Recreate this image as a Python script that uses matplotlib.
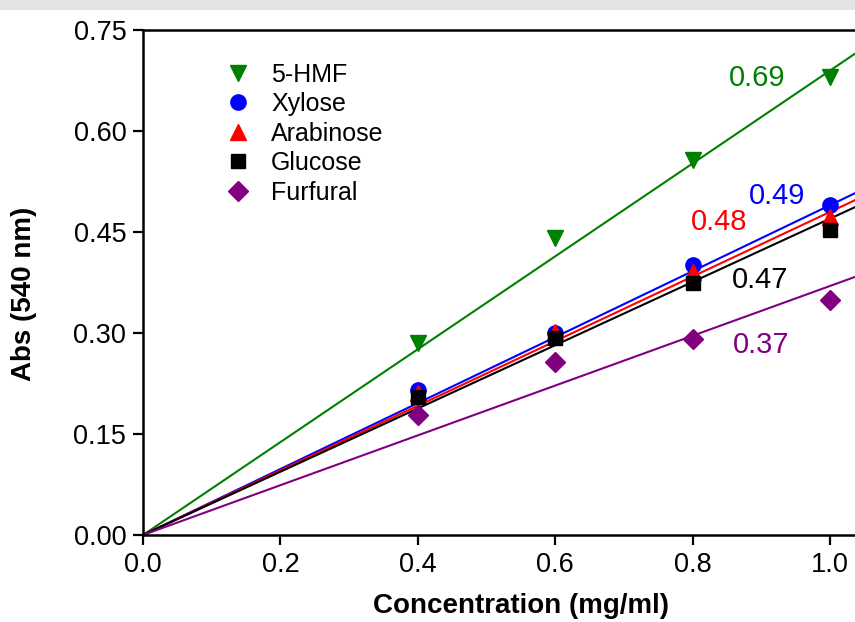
import numpy as np
import matplotlib
matplotlib.use("Agg")
import matplotlib.pyplot as plt
from matplotlib.patches import Rectangle

plt.rcParams['font.family'] = ['Liberation Sans', 'DejaVu Sans']

# standard concentrations (mg/ml)
conc = [0.4, 0.6, 0.8, 1.0]

# measured absorbance at 540 nm
names = ['5-HMF', 'Xylose', 'Arabinose', 'Glucose', 'Furfural']
abs_hmf = [0.285, 0.441, 0.557, 0.680]
abs_xyl = [0.215, 0.300, 0.401, 0.490]
abs_ara = [0.211, 0.302, 0.391, 0.472]
abs_glu = [0.205, 0.293, 0.374, 0.453]
abs_fur = [0.178, 0.257, 0.291, 0.349]

# fitted slopes (through origin)
slopes = [0.69, 0.49, 0.48, 0.47, 0.37]
slope_labels = ['0.69', '0.49', '0.48', '0.47', '0.37']

colors = ['#008000', '#0000ff', '#ff0000', '#000000', '#800080']
markers = ['v', 'o', '^', 's', 'D']
msizes = [12, 11, 12, 10, 10.5]
# where each slope value is written (data coords)
label_pos = [(0.894, 0.679), (0.923, 0.503), (0.839, 0.465), (0.898, 0.379), (0.900, 0.282)]

series = [abs_hmf, abs_xyl, abs_ara, abs_glu, abs_fur]

fig = plt.figure(figsize=(8.55, 6.22), dpi=100)
# faint grey strip along the top edge
fig.patches.append(Rectangle((0, 1 - 10 / 622), 1, 10 / 622, transform=fig.transFigure,
                             facecolor='#e4e4e4', edgecolor='none', zorder=0))

# axes run past the right edge of the figure
ax = fig.add_axes([143 / 855, 87 / 622, 756 / 855, 505 / 622])

xfit = np.array([0.0, 1.1])
for i in range(len(names)):
    ax.plot(xfit, slopes[i] * xfit, color=colors[i], lw=1.5, zorder=2)
    ax.plot(conc, series[i], linestyle='none', marker=markers[i], ms=msizes[i],
            color=colors[i], mec=colors[i], label=names[i], zorder=3)
    ax.text(label_pos[i][0], label_pos[i][1], slope_labels[i], color=colors[i],
            fontsize=21, ha='center', va='center')

ax.set_xlim(0, 1.1)
ax.set_ylim(0, 0.75)
ax.set_xticks(np.arange(0, 1.01, 0.2))
ax.set_yticks(np.arange(0, 0.76, 0.15))
ax.xaxis.set_major_formatter(matplotlib.ticker.FormatStrFormatter('%.1f'))
ax.yaxis.set_major_formatter(matplotlib.ticker.FormatStrFormatter('%.2f'))
ax.tick_params(direction='out', length=7, width=1.6, labelsize=19.5, pad=5)
for s in ax.spines.values():
    s.set_linewidth(1.8)

ax.set_xlabel('Concentration (mg/ml)', fontsize=20, fontweight='bold', labelpad=11)
ax.set_ylabel('Abs (540 nm)', fontsize=20, fontweight='bold')
ax.yaxis.set_label_coords(-0.140, 0.478)

ax.legend(loc='upper left', bbox_to_anchor=(0.08, 0.97), frameon=False,
          fontsize=18, handletextpad=0.6, labelspacing=0.22, borderpad=0.2,
          handlelength=1.4)

fig.savefig('out.png', dpi=100)
